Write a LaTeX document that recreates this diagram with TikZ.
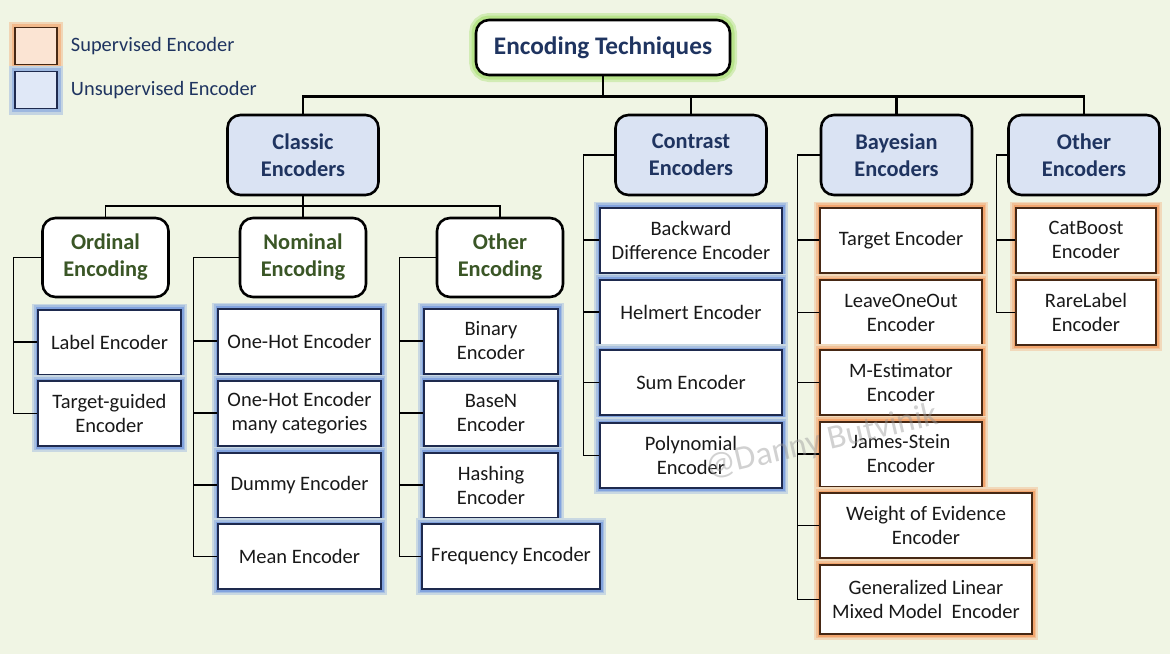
\documentclass[tikz,border=0pt]{standalone}
\usepackage{fontspec}
\setmainfont{Carlito}
\usetikzlibrary{positioning}
\definecolor{bgc}{RGB}{240,245,228}
\definecolor{famfill}{RGB}{218,227,243}
\definecolor{navy}{RGB}{31,52,96}
\definecolor{kindgreen}{RGB}{58,86,38}
\definecolor{leaftext}{RGB}{25,25,25}
\definecolor{unsupline}{RGB}{30,42,78}
\definecolor{unsupglow}{RGB}{130,163,222}
\definecolor{supline}{RGB}{70,40,20}
\definecolor{supglow}{RGB}{242,165,110}
\definecolor{rootglow}{RGB}{165,222,110}

\begin{document}
\begin{tikzpicture}[x=1pt,y=-1pt,
	box/.style={draw, rounded corners=13pt, line width=2.6pt, align=center,
		inner sep=0pt, font=\bfseries\fontsize{22.4}{27}\selectfont},
	family/.style={box, fill=famfill, text=navy, minimum width=151pt, minimum height=80pt},
	kind/.style={box, fill=white, text=kindgreen, minimum width=126pt, minimum height=79pt},
	leaf/.style={draw, fill=white, line width=2pt, align=center, inner sep=0pt,
		minimum height=65pt, text=leaftext, font=\fontsize{20.5}{24}\selectfont},
	unsup/.style={leaf, minimum width=#1, draw=unsupline,
		preaction={draw=unsupglow!35!bgc, line width=12pt},
		preaction={draw=unsupglow!65!bgc, line width=8.5pt},
		preaction={draw=unsupglow, line width=5pt}},
	sup/.style={leaf, minimum width=#1, draw=supline,
		preaction={draw=supglow!35!bgc, line width=12pt},
		preaction={draw=supglow!65!bgc, line width=8.5pt},
		preaction={draw=supglow, line width=5pt}},
	trunk/.style={line width=2.8pt},
	branch/.style={line width=1.8pt},
	twig/.style={line width=1.4pt},
	legend/.style={inner sep=0pt, text=navy, font=\fontsize{20.4}{22}\selectfont},
]
	\useasboundingbox (0,0) rectangle (1170,654);
	\fill[bgc] (0,0) rectangle (1170,654);

	%legend
	\node[draw=supline, line width=1.5pt, fill=supglow!30!white, minimum width=42pt,
		minimum height=37pt, preaction={draw=supglow!40!bgc, line width=12pt},
		preaction={draw=supglow!75!bgc, line width=7pt}] (supkey) at (36,46) {};
	\node[legend, right=13pt of supkey] (suptext) {Supervised Encoder};
	\node[draw=unsupline, line width=1.5pt, fill=unsupglow!25!white, minimum width=42pt,
		minimum height=37pt, preaction={draw=unsupglow!40!bgc, line width=12pt},
		preaction={draw=unsupglow!75!bgc, line width=7pt}] (unsupkey) at (36,90) {};
	\node[legend, right=13pt of unsupkey] (unsuptext) {Unsupervised Encoder};

	%root
	\node[box, fill=white, text=navy, minimum width=254pt, minimum height=55pt,
		font=\bfseries\fontsize{25.3}{27}\selectfont,
		preaction={draw=rootglow!40!bgc, line width=14pt},
		preaction={draw=rootglow!75!bgc, line width=9pt}] (root) at (603,47.5) {Encoding Techniques};

	%families
	\node[family] (classic) at (303,155) {Classic\\Encoders};
	\node[family] (contrast) at (691,155) {Contrast\\Encoders};
	\node[family] (bayes) at (896.5,155) {Bayesian\\Encoders};
	\node[family] (othenc) at (1084,155) {Other\\Encoders};

	%kinds of classic
	\node[kind] (ordinal) at (105.5,257.5) {Ordinal\\Encoding};
	\node[kind] (nominal) at (303,257.5) {Nominal\\Encoding};
	\node[kind] (othcod) at (500,257.5) {Other\\Encoding};

	%ordinal
	\node[unsup=143pt] (lab) at (109.5,342) {Label Encoder};
	\node[unsup=143pt] (tgd) at (109.5,413.5) {Target-guided\\Encoder};

	%nominal
	\node[unsup=163pt] (ohe) at (299.5,341) {One-Hot Encoder};
	\node[unsup=163pt] (ohm) at (299.5,413) {One-Hot Encoder\\many categories};
	\node[unsup=163pt] (dum) at (299.5,485) {Dummy Encoder};
	\node[unsup=163pt] (mea) at (299.5,556.5) {Mean Encoder};

	%other encoding
	\node[unsup=134pt] (bin) at (491,341) {Binary\\Encoder};
	\node[unsup=134pt] (bsn) at (491,413) {BaseN\\Encoder};
	\node[unsup=134pt] (hsh) at (491,485) {Hashing\\Encoder};
	\node[unsup=178pt] (frq) at (511,556.5) {Frequency Encoder};

	%contrast
	\node[unsup=182pt] (bwd) at (691,240) {Backward\\Difference Encoder};
	\node[unsup=182pt] (hlm) at (691,312) {Helmert Encoder};
	\node[unsup=182pt] (sum) at (691,382.5) {Sum Encoder};
	\node[unsup=182pt] (pol) at (691,455.5) {Polynomial\\Encoder};

	%bayesian
	\node[sup=162pt] (tgt) at (901,240) {Target Encoder};
	\node[sup=162pt] (loo) at (901,312.5) {LeaveOneOut\\Encoder};
	\node[sup=162pt] (mes) at (901,382.5) {M-Estimator\\Encoder};
	\node[sup=162pt] (jst) at (901,454) {James-Stein\\Encoder};
	\node[sup=212pt] (woe) at (926,525.5) {Weight of Evidence\\Encoder};
	\node[sup=212pt, minimum height=69pt] (glm) at (926,599.5) {Generalized Linear\\Mixed Model\ \ Encoder};

	%other encoders
	\node[sup=140pt] (cat) at (1086,240) {CatBoost\\Encoder};
	\node[sup=140pt] (rar) at (1086,312.5) {RareLabel\\Encoder};

	%trunk
	\draw[trunk] (root.south) -- ++(0,20) coordinate (rb);
	\foreach \f in {classic,contrast,bayes,othenc}
		\draw[trunk] (rb) -| (\f.north);
	\draw[branch] (classic.south) -- ++(0,10) coordinate (cb);
	\foreach \k in {ordinal,nominal,othcod}
		\draw[branch] (cb) -| (\k.north);

	%brackets
	\foreach \l in {lab,tgd}
		\draw[twig] (ordinal.west) -- ++(-28,0) |- (\l.west);
	\foreach \l in {ohe,ohm,dum,mea}
		\draw[twig] (nominal.west) -- ++(-45,0) |- (\l.west);
	\foreach \l in {bin,bsn,hsh,frq}
		\draw[twig] (othcod.west) -- ++(-36,0) |- (\l.west);
	\foreach \l in {bwd,hlm,sum,pol}
		\draw[twig] (contrast.west) -- ++(-31,0) |- (\l.west);
	\foreach \l in {tgt,loo,mes,jst,woe,glm}
		\draw[twig] (bayes.west) -- ++(-22,0) |- (\l.west);
	\foreach \l in {cat,rar}
		\draw[twig] (othenc.west) -- ++(-11,0) |- (\l.west);

	%watermark
	\node[text=gray!80, opacity=.45, rotate=13, font=\fontsize{34}{36}\selectfont] (mark) at (822,442) {@Danny Butvinik};
\end{tikzpicture}
\end{document}
